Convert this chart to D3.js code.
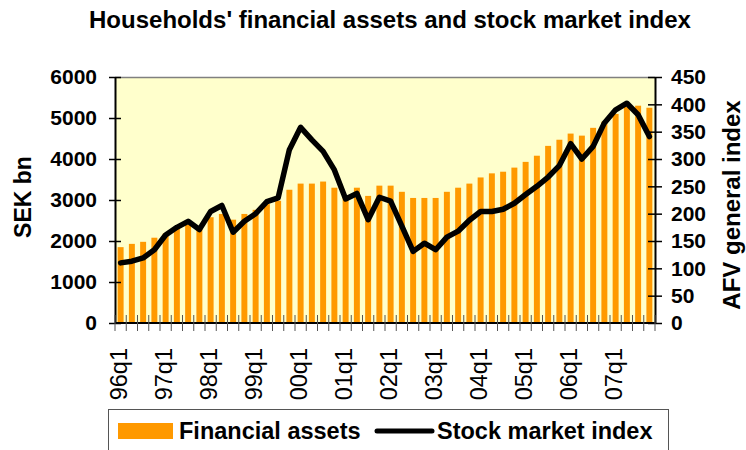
<!DOCTYPE html>
<html>
<head>
<meta charset="utf-8">
<script src="https://cdn.jsdelivr.net/npm/d3@7"></script>
<style>
  body { margin: 0; background: #fff; }
  text { font-family: "Liberation Sans", Arial, sans-serif; }
</style>
</head>
<body>
<div class="board"></div>
<script>
// data
var years = ['96', '97', '98', '99', '00', '01', '02', '03', '04', '05', '06', '07'];
var quarters = [];
years.forEach(function(y) {
  for (var q = 1; q <= 4; q++) quarters.push(y + 'q' + q);
});

// SEK bn
var financialAssets = [
  1850, 1930, 1980, 2080, 2180, 2300, 2400, 2330,
  2580, 2660, 2520, 2660, 2760, 2900, 2980, 3250,
  3400, 3400, 3450, 3300, 3100, 3300, 3100, 3350,
  3350, 3200, 3050, 3050, 3050, 3200, 3300, 3400,
  3550, 3650, 3690, 3790, 3930, 4080, 4320, 4470,
  4620, 4570, 4760, 4910, 5100, 5280, 5300, 5250
];

// AFV general index
var stockIndex = [
  110, 113, 119, 134, 161, 175, 186, 171,
  204, 215, 166, 186, 200, 222, 229, 317,
  358, 335, 314, 280, 227, 237, 189, 230,
  223, 177, 131, 146, 134, 157, 168, 188,
  204, 204, 208, 219, 235, 250, 267, 288,
  328, 300, 323, 366, 390, 402, 381, 341
];

var leftTicks = [0, 1000, 2000, 3000, 4000, 5000, 6000];
var rightTicks = [0, 50, 100, 150, 200, 250, 300, 350, 400, 450];

//globals
var width = 746;
var height = 450;
var plot = { left: 115, right: 655, top: 77, bottom: 323 };

var svg = d3.select('.board').append('svg')
  .attr('width', width)
  .attr('height', height);

var x = d3.scaleBand()
  .domain(quarters)
  .range([plot.left, plot.right])
  .paddingInner(0.47)
  .paddingOuter(0.235);

var yLeft = d3.scaleLinear().domain([0, 6000]).range([plot.bottom, plot.top]);
var yRight = d3.scaleLinear().domain([0, 450]).range([plot.bottom, plot.top]);

// title
svg.append('text')
  .attr('x', 390)
  .attr('y', 28)
  .attr('text-anchor', 'middle')
  .attr('font-size', 24)
  .attr('font-weight', 'bold')
  .text("Households' financial assets and stock market index");

// plot background
svg.append('rect')
  .attr('x', plot.left)
  .attr('y', plot.top)
  .attr('width', plot.right - plot.left)
  .attr('height', plot.bottom - plot.top)
  .attr('fill', '#ffffcc')
  .attr('stroke', 'none');

svg.append('line')
  .attr('x1', plot.left).attr('x2', plot.right)
  .attr('y1', plot.top + 0.5).attr('y2', plot.top + 0.5)
  .attr('stroke', '#808080')
  .attr('stroke-width', 1.5);

// bars
svg.selectAll('rect.bar').data(financialAssets)
  .enter().append('rect')
  .attr('class', 'bar')
  .attr('fill', '#ff9900')
  .attr('x', function(d, i) { return x(quarters[i]); })
  .attr('width', x.bandwidth())
  .attr('y', function(d) { return yLeft(d); })
  .attr('height', function(d) { return yLeft(0) - yLeft(d); });

// stock index line
var line = d3.line()
  .x(function(d, i) { return x(quarters[i]) + x.bandwidth() / 2; })
  .y(function(d) { return yRight(d); });

svg.append('path')
  .datum(stockIndex)
  .attr('d', line)
  .attr('fill', 'none')
  .attr('stroke', '#000')
  .attr('stroke-width', 5.5)
  .attr('stroke-linejoin', 'round')
  .attr('stroke-linecap', 'round');

// left axis
var leftAxis = d3.axisLeft(yLeft).tickValues(leftTicks).tickFormat(d3.format('d'))
  .tickSizeInner(6).tickSizeOuter(0).tickPadding(12);
var gl = svg.append('g').attr('transform', 'translate(' + plot.left + ',0)').call(leftAxis);

// right axis
var rightAxis = d3.axisRight(yRight).tickValues(rightTicks).tickFormat(d3.format('d'))
  .tickSizeInner(7).tickSizeOuter(0).tickPadding(9);
var gr = svg.append('g').attr('transform', 'translate(' + plot.right + ',0)').call(rightAxis);

[gl, gr].forEach(function(g) {
  g.select('.domain').attr('stroke', '#000').attr('stroke-width', 2);
  g.selectAll('.tick line').attr('stroke', '#000').attr('stroke-width', 1.5);
  g.selectAll('.tick text')
    .attr('font-size', 21)
    .attr('font-weight', 'bold')
    .attr('fill', '#000')
    .style('font-family', '"Liberation Sans", Arial, sans-serif');
});

// cross ticks going into the plot
gl.selectAll('.tick').append('line').attr('x2', 6).attr('stroke', '#000').attr('stroke-width', 1.5);
gr.selectAll('.tick').append('line').attr('x2', -7).attr('stroke', '#000').attr('stroke-width', 1.5);

// x axis, ticks on band edges crossing the line
var gx = svg.append('g');
gx.append('line')
  .attr('x1', plot.left).attr('x2', plot.right)
  .attr('y1', plot.bottom).attr('y2', plot.bottom)
  .attr('stroke', '#000')
  .attr('stroke-width', 2);

var step = x.step();
var edges = quarters.map(function(q) { return x(q) - step * x.paddingInner() / 2; });
edges.push(plot.right);
gx.selectAll('line.xt').data(edges)
  .enter().append('line')
  .attr('class', 'xt')
  .attr('x1', function(d) { return d; })
  .attr('x2', function(d) { return d; })
  .attr('y1', plot.bottom - 8)
  .attr('y2', plot.bottom + 8)
  .attr('stroke', '#555')
  .attr('stroke-width', 1);

gx.selectAll('text.xl').data(quarters.filter(function(q) { return q.slice(2) === 'q1'; }))
  .enter().append('text')
  .attr('class', 'xl')
  .attr('transform', function(d) {
    return 'translate(' + (x(d) + x.bandwidth() / 2 - 2) + ',' + 348 + ') rotate(-90)';
  })
  .attr('text-anchor', 'end')
  .attr('dy', '0.35em')
  .attr('font-size', 23.5)
  .text(function(d) { return d; });

// axis titles
svg.append('text')
  .attr('transform', 'translate(31,197) rotate(-90)')
  .attr('text-anchor', 'middle')
  .attr('font-size', 23)
  .attr('font-weight', 'bold')
  .text('SEK bn');

svg.append('text')
  .attr('transform', 'translate(740,205) rotate(-90)')
  .attr('text-anchor', 'middle')
  .attr('font-size', 24)
  .attr('font-weight', 'bold')
  .text('AFV general index');

// legend
var legend = svg.append('g');
legend.append('rect')
  .attr('x', 108.5).attr('y', 409.5)
  .attr('width', 560).attr('height', 60)
  .attr('fill', '#fff')
  .attr('stroke', '#555')
  .attr('stroke-width', 1);
legend.append('rect')
  .attr('x', 118).attr('y', 423)
  .attr('width', 55).attr('height', 16)
  .attr('fill', '#ff9900');
legend.append('text')
  .attr('x', 179).attr('y', 439)
  .attr('font-size', 23.5)
  .attr('font-weight', 'bold')
  .text('Financial assets');
legend.append('line')
  .attr('x1', 377).attr('x2', 432)
  .attr('y1', 431).attr('y2', 431)
  .attr('stroke', '#000')
  .attr('stroke-width', 5)
  .attr('stroke-linecap', 'round');
legend.append('text')
  .attr('x', 437).attr('y', 439)
  .attr('font-size', 23.5)
  .attr('font-weight', 'bold')
  .text('Stock market index');
</script>
</body>
</html>
